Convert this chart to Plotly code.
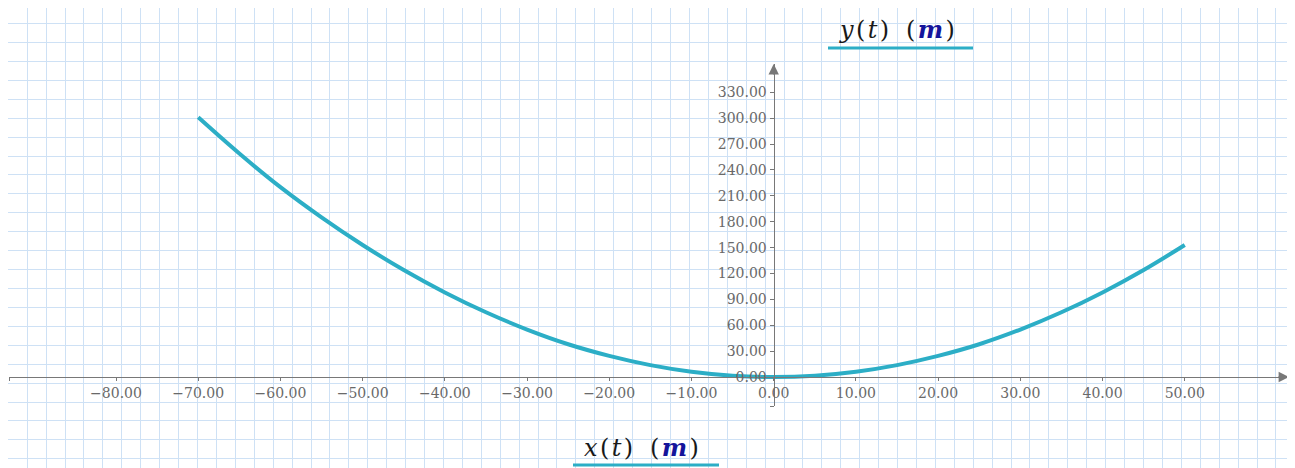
import plotly.graph_objects as go

# ---- data ----
x_vals = [-70, -65, -60, -55, -50, -45, -40, -35, -30, -25, -20, -15, -10, -5, 0,
          5, 10, 15, 20, 25, 30, 35, 40, 45, 50]
y_vals = [301, 259, 220, 185, 153, 124, 98, 75, 55, 38, 24.5, 13.8, 6.1, 1.5, 0,
          1.5, 6.1, 13.8, 24.5, 38, 55, 75, 98, 124, 153]

x_ticks = [-80, -70, -60, -50, -40, -30, -20, -10, 0, 10, 20, 30, 40, 50]
y_ticks = [0, 30, 60, 90, 120, 150, 180, 210, 240, 270, 300, 330]
x_tick_text = [("\u2212%.2f" % -v) if v < 0 else "%.2f" % v for v in x_ticks]
y_tick_text = ["%.2f" % v for v in y_ticks]

x_range = [-92.98, 62.68]
y_range = [-33.6, 362.8]

# page body has an 8px margin, so the figure frame is offset by 8px
W, H = 1287, 460
TEAL = "rgb(44,174,198)"
AX = "rgb(120,120,120)"
LBL = "rgb(105,105,105)"
GRID = "rgb(206,225,245)"
FONT = "DejaVu Serif"

fig = go.Figure()
fig.add_trace(go.Scatter(x=[], y=[], xaxis="x", yaxis="y", showlegend=False))
fig.add_trace(go.Scatter(x=x_vals, y=y_vals, mode="lines",
                         line=dict(color=TEAL, width=4, shape="spline"),
                         xaxis="x2", yaxis="y2", showlegend=False, hoverinfo="skip"))

pos_x_axis = 1 - 369 / H
pos_y_axis = 765.7 / W

fig.update_layout(
    width=W, height=H,
    margin=dict(l=0, r=0, t=0, b=0, pad=0),
    paper_bgcolor="white", plot_bgcolor="rgba(0,0,0,0)",
    showlegend=False,
    # worksheet grid (pixel coordinates)
    xaxis=dict(domain=[0, 1], range=[0, W], anchor="y", tick0=0.3, dtick=18.92,
               showgrid=True, gridcolor=GRID, gridwidth=1,
               showticklabels=False, ticks="", zeroline=False, showline=False, fixedrange=True),
    yaxis=dict(domain=[0, 1], range=[H, 0], anchor="x", tick0=15.62, dtick=18.92,
               showgrid=True, gridcolor=GRID, gridwidth=1,
               showticklabels=False, ticks="", zeroline=False, showline=False, fixedrange=True),
    # data axes
    xaxis2=dict(domain=[1.3 / W, 1281 / W], range=x_range, anchor="free", position=pos_x_axis,
                tickmode="array", tickvals=[x_range[0]] + x_ticks, ticktext=[""] + x_tick_text,
                ticks="outside", ticklen=3, tickwidth=1, tickcolor=AX,
                showline=True, linecolor=AX, linewidth=1.3,
                showgrid=False, zeroline=False,
                tickfont=dict(family=FONT, size=14, color=LBL)),
    yaxis2=dict(domain=[1 - 398 / H, 1 - 56 / H], range=y_range, anchor="free", position=pos_y_axis,
                tickmode="array", tickvals=[y_range[0]] + y_ticks, ticktext=[""] + y_tick_text,
                ticks="outside", ticklen=4, tickwidth=1, tickcolor=AX,
                showline=True, linecolor=AX, linewidth=1.3,
                showgrid=False, zeroline=False,
                tickfont=dict(family=FONT, size=14, color=LBL)),
    xaxis3=dict(overlaying="x2", range=x_range, anchor="free", position=pos_x_axis,
                tickmode="array", tickvals=[x_range[0]] + x_ticks,
                ticks="inside", ticklen=4, tickwidth=1, tickcolor=AX,
                showticklabels=False, showline=False, showgrid=False, zeroline=False),
    yaxis3=dict(overlaying="y2", range=y_range, anchor="free", position=pos_y_axis,
                tickmode="array", tickvals=[y_range[0]] + y_ticks,
                ticks="inside", ticklen=4, tickwidth=1, tickcolor=AX,
                showticklabels=False, showline=False, showgrid=False, zeroline=False),
)

# axis arrowheads
fig.add_annotation(x=x_range[1], y=0, xref="x2", yref="y2", text="", showarrow=True,
                   ax=-12, ay=0, arrowhead=2, arrowsize=1.6, arrowwidth=1.3, arrowcolor=AX)
fig.add_annotation(x=0, y=y_range[1], xref="x2", yref="y2", text="", showarrow=True,
                   ax=0, ay=12, arrowhead=2, arrowsize=1.6, arrowwidth=1.3, arrowcolor=AX)

HS = "\u200a"
M = "<span style='color:rgb(20,20,155)'><b><i>m</i></b></span>"
def label(v):
    return ("<i>" + v + "</i>" + HS + "(" + HS + "<i>t</i>" + HS + ")" + "\u2002\u2009" +
            "(" + HS + M + HS + ")")

fig.add_annotation(x=889 / W, y=1 - 22 / H, xref="paper", yref="paper", showarrow=False,
                   xanchor="center", yanchor="middle",
                   text=label("y"), font=dict(family=FONT, size=24, color="rgb(25,25,25)"))
fig.add_annotation(x=633.5 / W, y=1 - 439 / H, xref="paper", yref="paper", showarrow=False,
                   xanchor="center", yanchor="middle",
                   text=label("x"), font=dict(family=FONT, size=24, color="rgb(25,25,25)"))

# legend lines under the axis labels
fig.add_shape(type="line", xref="paper", yref="paper", x0=820 / W, x1=965 / W,
              y0=1 - 40 / H, y1=1 - 40 / H, line=dict(color=TEAL, width=3))
fig.add_shape(type="line", xref="paper", yref="paper", x0=565 / W, x1=711 / W,
              y0=1 - 457 / H, y1=1 - 457 / H, line=dict(color=TEAL, width=3))

fig.write_html("out.html")
